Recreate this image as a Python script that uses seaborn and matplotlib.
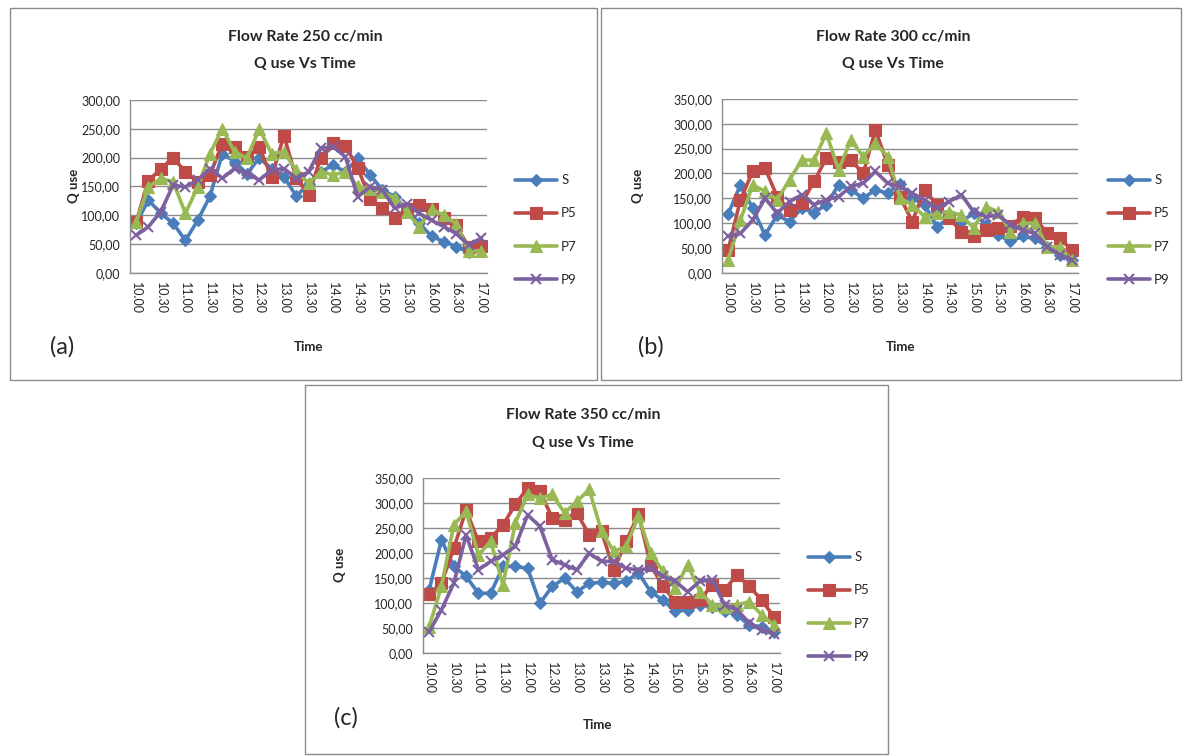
import numpy as np
import pandas as pd
import matplotlib
matplotlib.use('Agg')
import matplotlib.pyplot as plt
from matplotlib.patches import Rectangle
import seaborn as sns

# time axis (every 15 min, labels shown every 30 min)
times = ['10.00', '10.15', '10.30', '10.45', '11.00', '11.15', '11.30', '11.45',
         '12.00', '12.15', '12.30', '12.45', '13.00', '13.15', '13.30', '13.45',
         '14.00', '14.15', '14.30', '14.45', '15.00', '15.15', '15.30', '15.45',
         '16.00', '16.15', '16.30', '16.45', '17.00']
series_names = ['S', 'P5', 'P7', 'P9']

# (a) Flow Rate 250 cc/min
a_S = [86, 126, 103, 86, 56, 91, 133, 207, 193, 172, 199, 181, 167, 133, 154,
       175, 187, 175, 199, 170, 144, 132, 109, 86, 63, 54, 45, 36, 45]
a_P5 = [88, 160, 180, 200, 175, 158, 170, 224, 218, 201, 218, 166, 238, 165, 135,
        200, 226, 220, 182, 128, 113, 95, 110, 118, 110, 95, 82, 45, 47]
a_P7 = [88, 149, 164, 158, 103, 149, 207, 250, 210, 199, 250, 207, 210, 178, 155,
        175, 170, 175, 150, 145, 140, 130, 105, 80, 110, 100, 85, 38, 38]
a_P9 = [65, 80, 106, 152, 149, 161, 181, 164, 181, 172, 161, 178, 181, 164, 175,
        216, 219, 201, 132, 149, 144, 112, 120, 103, 91, 80, 68, 48, 60]

# (b) Flow Rate 300 cc/min
b_S = [118, 177, 130, 76, 116, 103, 130, 121, 137, 177, 167, 150, 167, 160, 179,
       150, 137, 93, 110, 103, 120, 96, 76, 63, 73, 69, 52, 36, 26]
b_P5 = [46, 147, 204, 211, 153, 127, 140, 184, 231, 224, 227, 200, 288, 217, 153,
        103, 167, 137, 110, 83, 73, 86, 90, 95, 113, 110, 79, 69, 46]
b_P7 = [26, 106, 177, 164, 147, 187, 227, 227, 281, 207, 268, 234, 261, 234, 150,
        137, 113, 120, 123, 116, 90, 133, 123, 83, 100, 100, 52, 52, 26]
b_P9 = [73, 79, 106, 150, 120, 143, 157, 137, 147, 153, 174, 180, 204, 180, 174,
        160, 147, 130, 143, 157, 123, 113, 116, 96, 86, 79, 52, 36, 26]

# (c) Flow Rate 350 cc/min
c_S = [126, 226, 173, 153, 119, 119, 173, 173, 169, 99, 133, 149, 122, 139, 141,
       139, 143, 160, 122, 105, 83, 86, 96, 92, 83, 76, 55, 52, 42]
c_P5 = [118, 139, 209, 286, 223, 230, 256, 297, 330, 323, 270, 266, 280, 236, 243,
        166, 223, 278, 175, 133, 102, 102, 106, 136, 126, 156, 133, 106, 72]
c_P7 = [52, 133, 256, 283, 196, 223, 136, 260, 317, 310, 317, 280, 303, 327, 243,
        203, 213, 273, 199, 163, 129, 176, 122, 96, 92, 96, 102, 76, 56]
c_P9 = [42, 86, 139, 236, 166, 183, 196, 213, 276, 253, 186, 176, 166, 199, 183,
        183, 169, 166, 169, 153, 143, 122, 143, 146, 96, 86, 60, 45, 38]

panels = [
    dict(title='Flow Rate 250 cc/min', data=[a_S, a_P5, a_P7, a_P9], ymax=300, letter='(a)',
         box=(10, 8, 597, 380), ax=(130, 100, 487, 272.7), tx=305, ty=(37, 64),
         ylab_x=74, xlab=(308, 347), let_xy=(62, 347), leg=(515, 230)),
    dict(title='Flow Rate 300 cc/min', data=[b_S, b_P5, b_P7, b_P9], ymax=350, letter='(b)',
         box=(601, 8, 1181, 380), ax=(722, 99, 1078, 272.7), tx=893, ty=(37, 64),
         ylab_x=638, xlab=(900, 347), let_xy=(651, 347), leg=(1108, 230)),
    dict(title='Flow Rate 350 cc/min', data=[c_S, c_P5, c_P7, c_P9], ymax=350, letter='(c)',
         box=(305, 385, 888, 754), ax=(423, 478, 780, 652.7), tx=583, ty=(415, 443),
         ylab_x=340, xlab=(597, 725), let_xy=(346, 718), leg=(808, 607)),
]

colors = {'S': '#4a7ebb', 'P5': '#be4b48', 'P7': '#98b954', 'P9': '#7d60a0'}
# seaborn won't mix filled / line markers, so P9 gets its 'x' afterwards
markers = {'S': 'D', 'P5': 's', 'P7': '^', 'P9': 'o'}
msizes = {'S': 6.5, 'P5': 8, 'P7': 8, 'P9': 7.5}
grey = '#8c8c8c'

sns.set_style('white')
plt.rcParams['font.family'] = ['Lato', 'DejaVu Sans']

W, H = 1184, 756
fig = plt.figure(figsize=(W / 100, H / 100), dpi=100)


def fx(x):
    return x / W


def fy(y):
    return 1 - y / H


for p in panels:
    x0, y0, x1, y1 = p['box']
    fig.patches.append(Rectangle((fx(x0), fy(y1)), fx(x1 - x0), (y1 - y0) / H,
                                 transform=fig.transFigure, fill=False,
                                 edgecolor=grey, lw=1))
    l, t, r, b = p['ax']
    ax = fig.add_axes([fx(l), fy(b), fx(r - l), (b - t) / H])

    df = pd.DataFrame({
        't': list(range(len(times))) * len(series_names),
        'Q': sum(p['data'], []),
        'series': [s for s in series_names for _ in times],
    })
    sns.lineplot(data=df, x='t', y='Q', hue='series', style='series',
                 hue_order=series_names, style_order=series_names,
                 palette=colors, markers=markers, dashes=False,
                 errorbar=None, legend=False, lw=2.6, ax=ax)
    lines = ax.get_lines()[:len(series_names)]
    for ln, s in zip(lines, series_names):
        if s == 'P9':
            ln.set_marker('x')
        ln.set_markersize(msizes[s])
        ln.set_markeredgecolor(colors[s])
        ln.set_markerfacecolor(colors[s])
        ln.set_markeredgewidth(1.5 if s == 'P9' else 0.8)

    ax.set_xlim(-0.5, len(times) - 0.5)
    ax.set_ylim(0, p['ymax'])
    yt = np.arange(0, p['ymax'] + 1, 50)
    ax.set_yticks(yt)
    ax.set_yticklabels([f'{v:.2f}'.replace('.', ',') for v in yt], fontsize=9)
    ax.set_xticks(range(0, len(times), 2))
    ax.set_xticklabels(times[::2], rotation=-90, fontsize=9)
    ax.set_xticks(np.arange(-0.5, len(times), 1), minor=True)
    ax.tick_params(axis='x', which='major', length=0, pad=7)
    ax.tick_params(axis='x', which='minor', length=4, width=0.8, color=grey, direction='out')
    ax.tick_params(axis='y', length=4, width=0.8, color=grey, direction='out', pad=3)
    ax.yaxis.grid(True, color=grey, lw=1)
    ax.set_axisbelow(True)
    for sp in ['top', 'right']:
        ax.spines[sp].set_visible(False)
    for sp in ['left', 'bottom']:
        ax.spines[sp].set_color(grey)
        ax.spines[sp].set_linewidth(1)
    ax.set_xlabel('')
    ax.set_ylabel('')

    fig.text(fx(p['tx']), fy(p['ty'][0]), p['title'], ha='center', va='center',
             fontsize=11.3, fontweight='bold')
    fig.text(fx(p['tx']), fy(p['ty'][1]), 'Q use Vs Time', ha='center', va='center',
             fontsize=11.3, fontweight='bold')
    fig.text(fx(p['ylab_x']), fy((t + b) / 2), 'Q use', rotation=90, ha='center',
             va='center', fontsize=9.5, fontweight='bold')
    fig.text(fx(p['xlab'][0]), fy(p['xlab'][1]), 'Time', ha='center', va='center',
             fontsize=9.5, fontweight='bold')
    fig.text(fx(p['let_xy'][0]), fy(p['let_xy'][1]), p['letter'], ha='center',
             va='center', fontsize=17)

    ax.legend(lines, series_names, loc='center left',
              bbox_to_anchor=(fx(p['leg'][0]), fy(p['leg'][1])),
              bbox_transform=fig.transFigure, frameon=False, fontsize=9.5,
              borderpad=0, borderaxespad=0, labelspacing=1.6,
              handlelength=3.2, handletextpad=0.3, numpoints=1)

fig.savefig('out.png', dpi=100, facecolor='white')
